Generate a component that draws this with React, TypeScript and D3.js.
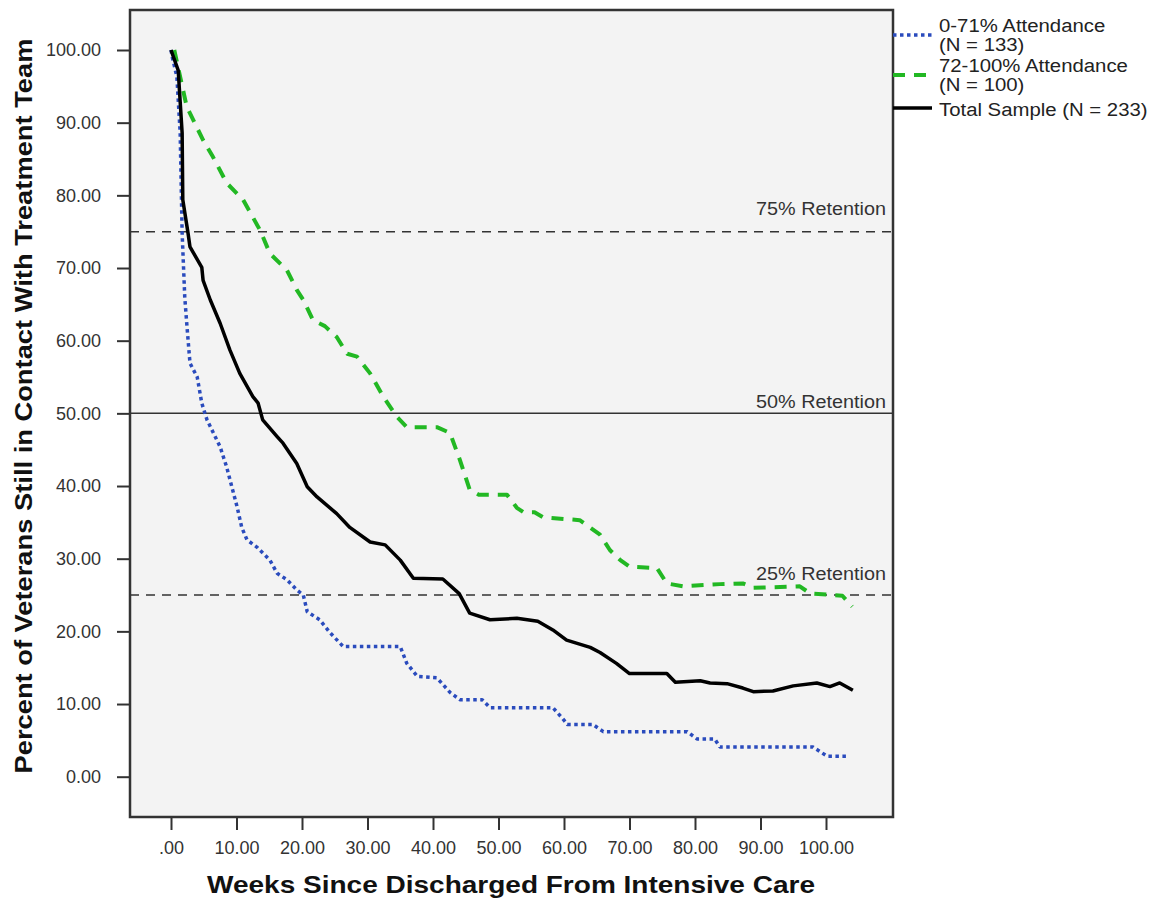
import React, { useRef, useEffect } from "react";
import * as d3 from "d3";

// weeks / percent
const lowWeeks = [0, 0.2, 0.9, 1.4, 1.7, 2.1, 2.4, 2.9, 4, 4.7, 5.5, 7.5, 8.5, 10.1, 10.8, 11.6, 13.1, 15.1, 16.2, 17.7, 19.2, 20.2, 20.8, 22.7, 24.3, 26.3, 35, 36, 37.6, 40.6, 42.6, 44.1, 47.5, 48.7, 58.3, 59.8, 60.5, 64.4, 66, 78.8, 80.3, 83, 83.8, 98, 100.2, 103.2];
const lowPct = [100, 99, 96.3, 88.6, 74.8, 66, 62.4, 56.9, 55, 51.4, 49.1, 45.4, 42.6, 37.1, 34.3, 32.6, 31.6, 29.8, 28, 27.1, 25.7, 25, 22.7, 21.6, 19.8, 17.9, 17.9, 15.6, 13.8, 13.6, 11.6, 10.6, 10.6, 9.5, 9.5, 8, 7.2, 7.2, 6.2, 6.2, 5.2, 5.2, 4.1, 4.1, 2.8, 2.8];

const highWeeks = [0.5, 1.4, 2.4, 4.9, 6.4, 8.5, 11, 13.6, 15.1, 17.7, 19.2, 20.2, 21.7, 23.5, 25.3, 26.9, 28.4, 30.4, 32.4, 34.5, 36, 40.6, 42.6, 44.1, 45.6, 47, 51.3, 52.8, 53.8, 55.5, 56.8, 62.4, 65.5, 67, 68.6, 70, 74.2, 75.7, 78.2, 83.8, 87.3, 88.9, 93, 96, 97.6, 101, 102.5, 104];
const highPct = [100, 96.3, 92.2, 87.6, 85.3, 81.7, 79.4, 75.2, 72, 69.7, 67, 65.6, 62.8, 62, 60.5, 58.2, 57.8, 55.5, 52.3, 49.5, 48.1, 48.1, 47.3, 43.6, 39.5, 38.8, 38.8, 37, 36.4, 36.4, 35.7, 35.3, 33.3, 31.2, 29.8, 28.9, 28.7, 26.6, 26.2, 26.5, 26.6, 26, 26.1, 26.2, 25.2, 25, 24.9, 23.4];

const totalWeeks = [0, 1.1, 1.7, 1.8, 2.6, 2.9, 4.7, 4.9, 6, 7.5, 9, 10.5, 12.5, 13.3, 14, 16.2, 17.1, 19.2, 20.8, 22.3, 25.3, 27.3, 30.4, 32.7, 35, 37, 41.5, 44, 45.6, 48.7, 52.8, 56, 58.3, 60.4, 64, 65.5, 68, 70, 75.7, 77, 80.8, 82.3, 84.9, 87.3, 88.9, 91.9, 95, 98.6, 100.6, 102.1, 104.1];
const totalPct = [100, 97.2, 88.6, 79.4, 74.8, 72.9, 70.1, 68.3, 65.6, 62.4, 58.7, 55.5, 52.3, 51.4, 49.1, 46.8, 45.9, 43.1, 39.9, 38.5, 36.2, 34.3, 32.3, 31.9, 29.8, 27.3, 27.2, 25.2, 22.5, 21.6, 21.8, 21.4, 20.2, 18.8, 17.8, 17.1, 15.6, 14.2, 14.2, 13, 13.2, 12.9, 12.8, 12.2, 11.7, 11.8, 12.5, 12.9, 12.4, 12.9, 11.9];

const xTicks = [0, 10, 20, 30, 40, 50, 60, 70, 80, 90, 100];
const yTicks = [0, 10, 20, 30, 40, 50, 60, 70, 80, 90, 100];
const retention = [75, 50, 25];
const legendLabels = [["0-71% Attendance", "(N = 133)"], ["72-100% Attendance", "(N = 100)"], ["Total Sample (N = 233)"]];

const font = "Arial, 'Liberation Sans', sans-serif";

const App = () => {
  const svgRef = useRef<SVGSVGElement>(null);

  useEffect(() => {
    const svg = d3.select(svgRef.current);
    svg.selectAll("*").remove();

    const frame = { left: 130, top: 10, right: 893, bottom: 817 };
    const x = d3.scaleLinear().domain([0, 100]).range([171, 826]);
    const y = d3.scaleLinear().domain([0, 100]).range([776.7, 50]);

    svg.append("rect")
      .attr("x", frame.left).attr("y", frame.top)
      .attr("width", frame.right - frame.left).attr("height", frame.bottom - frame.top)
      .attr("fill", "#f3f3f3");

    // y axis
    const yAxis = svg.append("g")
      .attr("transform", `translate(${frame.left},0)`)
      .call(d3.axisLeft(y).tickValues(yTicks).tickSize(13).tickPadding(16).tickFormat(d3.format(".2f")));
    yAxis.select(".domain").remove();
    yAxis.selectAll("line").attr("stroke", "#333").attr("stroke-width", 2);
    yAxis.selectAll("text").attr("font-family", font).attr("font-size", 18).attr("fill", "#333");

    // x axis
    const xAxis = svg.append("g")
      .attr("transform", `translate(0,${frame.bottom})`)
      .call(d3.axisBottom(x).tickValues(xTicks).tickSize(13).tickPadding(11)
        .tickFormat(d => d === 0 ? ".00" : d3.format(".2f")(d as number)));
    xAxis.select(".domain").remove();
    xAxis.selectAll("line").attr("stroke", "#333").attr("stroke-width", 2);
    xAxis.selectAll("text").attr("font-family", font).attr("font-size", 18).attr("fill", "#333");

    // reference lines
    const labelGap: Record<number, number> = { 75: 17, 50: 5, 25: 15 };
    retention.forEach(r => {
      svg.append("line")
        .attr("x1", frame.left).attr("x2", frame.right)
        .attr("y1", y(r)).attr("y2", y(r))
        .attr("stroke", "#333").attr("stroke-width", r === 50 ? 1.5 : 1.6)
        .attr("stroke-dasharray", r === 50 ? null : "9,7");
      svg.append("text")
        .attr("x", 886).attr("y", y(r) - labelGap[r])
        .attr("text-anchor", "end")
        .attr("font-family", font).attr("font-size", 18).attr("fill", "#333")
        .attr("textLength", 130).attr("lengthAdjust", "spacingAndGlyphs")
        .text(`${r}% Retention`);
    });

    const line = d3.line<[number, number]>().x(d => x(d[0])).y(d => y(d[1]));
    const series = [
      { w: lowWeeks, p: lowPct, color: "#2a4bbd", width: 3.5, dash: "3.5,3.5" },
      { w: highWeeks, p: highPct, color: "#22b823", width: 4, dash: "12,9" },
      { w: totalWeeks, p: totalPct, color: "#000", width: 3.5, dash: null },
    ];
    series.forEach(s => {
      svg.append("path")
        .datum(s.w.map((w, i) => [w, s.p[i]] as [number, number]))
        .attr("fill", "none")
        .attr("stroke", s.color)
        .attr("stroke-width", s.width)
        .attr("stroke-dasharray", s.dash)
        .attr("stroke-linejoin", "round")
        .attr("d", line);
    });

    // frame
    svg.append("rect")
      .attr("x", frame.left).attr("y", frame.top)
      .attr("width", frame.right - frame.left).attr("height", frame.bottom - frame.top)
      .attr("fill", "none").attr("stroke", "#333").attr("stroke-width", 2.5);

    // axis titles
    svg.append("text")
      .attr("x", 511).attr("y", 893)
      .attr("text-anchor", "middle")
      .attr("font-family", font).attr("font-size", 24).attr("font-weight", "bold").attr("fill", "#111")
      .attr("textLength", 608).attr("lengthAdjust", "spacingAndGlyphs")
      .text("Weeks Since Discharged From Intensive Care");
    svg.append("text")
      .attr("transform", "translate(32,406) rotate(-90)")
      .attr("text-anchor", "middle")
      .attr("font-family", font).attr("font-size", 23).attr("font-weight", "bold").attr("fill", "#111")
      .attr("textLength", 735).attr("lengthAdjust", "spacingAndGlyphs")
      .text("Percent of Veterans Still in Contact With Treatment Team");

    // legend (text in the source is a bit wider than plain Arial)
    const legendY = [35, 75, 108];
    const legendDash = ["3.5,3.5", "12,9", null];
    series.forEach((s, i) => {
      svg.append("line")
        .attr("x1", 893).attr("x2", 932)
        .attr("y1", legendY[i]).attr("y2", legendY[i])
        .attr("stroke", s.color).attr("stroke-width", s.width)
        .attr("stroke-dasharray", legendDash[i]);
      legendLabels[i].forEach((t, j) => {
        const txt = svg.append("text")
          .attr("x", 939).attr("y", legendY[i] + (legendLabels[i].length > 1 ? -3 + j * 19 : 8))
          .attr("font-family", font).attr("font-size", 18).attr("fill", "#222")
          .text(t);
        const w = (txt.node() as SVGTextElement).getComputedTextLength();
        txt.attr("textLength", w * 1.13).attr("lengthAdjust", "spacingAndGlyphs");
      });
    });
  }, []);

  return (
    <svg ref={svgRef} width={1151} height={899}
      style={{ position: "absolute", left: 0, top: 0, background: "#fff" }} />
  );
};

export default App;
